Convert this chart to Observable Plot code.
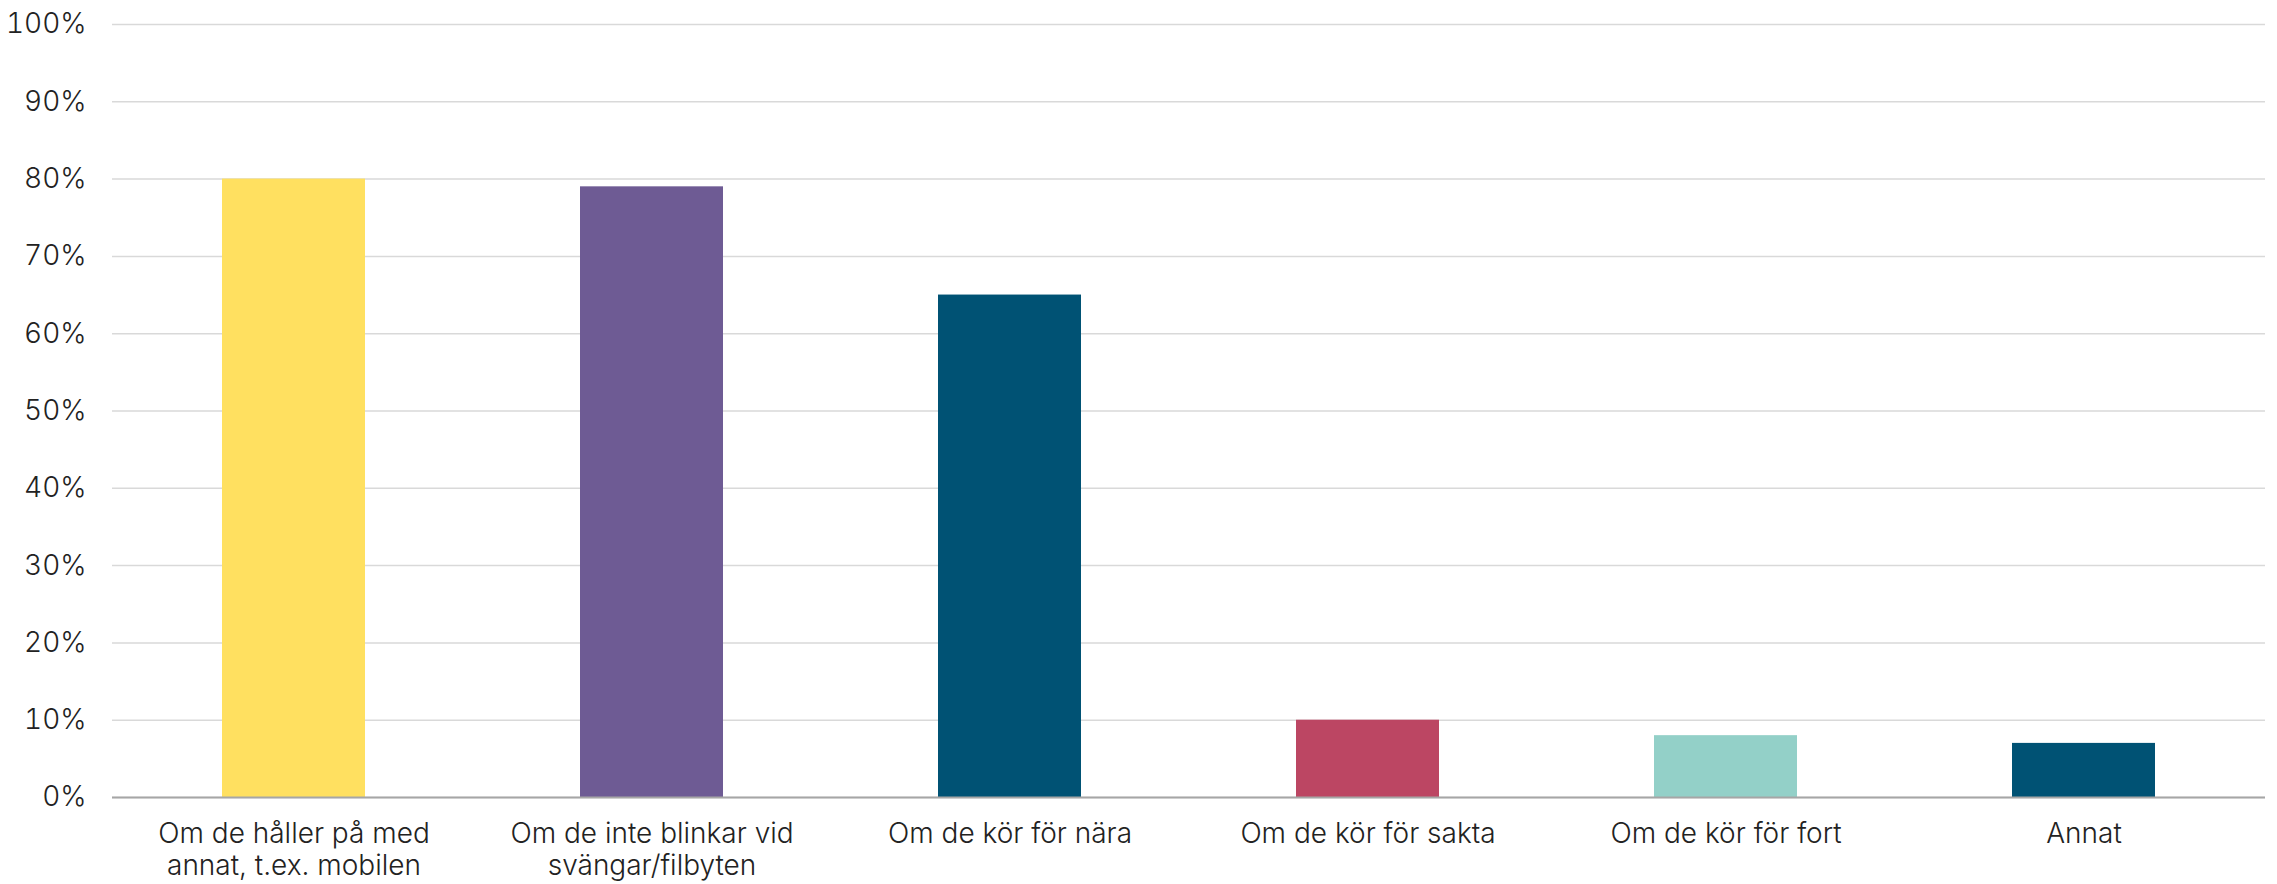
<!DOCTYPE html>
<html>
<head>
<meta charset="utf-8">
<script src="https://cdn.jsdelivr.net/npm/d3@7"></script>
<script src="https://cdn.jsdelivr.net/npm/@observablehq/plot@0.6"></script>
<style>
  html, body { margin: 0; padding: 0; background: #fff; }
  #chart { width: 2277px; height: 884px; }
</style>
</head>
<body>
<div id="chart"></div>
<script>
const categories = [
  "Om de håller på med annat, t.ex. mobilen",
  "Om de inte blinkar vid svängar/filbyten",
  "Om de kör för nära",
  "Om de kör för sakta",
  "Om de kör för fort",
  "Annat"
];
const tickLabels = [
  "Om de håller på med\nannat, t.ex. mobilen",
  "Om de inte blinkar vid\nsvängar/filbyten",
  "Om de kör för nära",
  "Om de kör för sakta",
  "Om de kör för fort",
  "Annat"
];
const values = [80, 79, 65, 10, 8, 7];
const colors = ["#FFE060", "#6E5B94", "#005274", "#BC4663", "#93D0C8", "#005274"];
const yTicks = [0, 10, 20, 30, 40, 50, 60, 70, 80, 90, 100];

const data = categories.map((c, i) => ({category: c, value: values[i]}));
const labelOf = new Map(categories.map((c, i) => [c, tickLabels[i]]));

const chart = Plot.plot({
  width: 2277,
  height: 884,
  marginTop: 24,
  marginBottom: 87,
  marginLeft: 112,
  marginRight: 12,
  style: {fontFamily: "Inter, Roboto, sans-serif", fontSize: "28px", color: "#222", background: "#fff"},
  x: {domain: categories, paddingInner: 0.6, paddingOuter: 0.3, label: null},
  y: {domain: [0, 100], label: null},
  color: {domain: categories, range: colors},
  marks: [
    Plot.gridY(yTicks, {stroke: "#d9d9d9", strokeOpacity: 1, strokeWidth: 1.5}),
    Plot.barY(data, {x: "category", y: "value", fill: "category"}),
    Plot.ruleY([0], {stroke: "#a6a6a6", strokeWidth: 2}),
    Plot.axisY(yTicks, {tickSize: 0, tickPadding: 26, tickFormat: d => d + "%", label: null, fontSize: 28, fill: "#222", fontWeight: 300}),
    Plot.axisX({tickSize: 0, tickPadding: 23, tickFormat: d => labelOf.get(d), label: null, fontSize: 28, lineHeight: 1.14, fill: "#222", fontWeight: 300})
  ]
});
document.getElementById("chart").appendChild(chart);
</script>
</body>
</html>
